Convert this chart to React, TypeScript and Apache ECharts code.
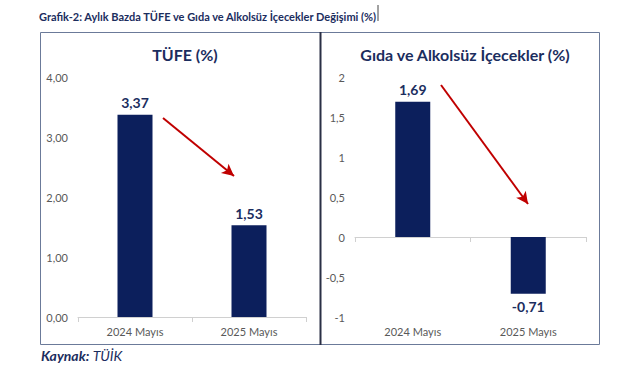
import React, { useEffect, useRef } from "react";
import * as echarts from "echarts";

const categories = ["2024 Mayıs", "2025 Mayıs"];
const tufeValues = [3.37, 1.53];
const gidaValues = [1.69, -0.71];
const mainTitle = "Grafik-2: Aylık Bazda TÜFE ve Gıda ve Alkolsüz İçecekler Değişimi (%)";
const leftTitle = "TÜFE (%)";
const rightTitle = "Gıda ve Alkolsüz İçecekler (%)";

const NAVY = "#0c1f5c";
const TITLE = "#1b2d5e";
const FONT = "Lato, 'Open Sans', sans-serif";

const comma = (v: number, d?: number) =>
  (d === undefined ? String(v) : v.toFixed(d)).replace(".", ",");

export default function App() {
  const ref = useRef<HTMLDivElement>(null);
  useEffect(() => {
    const chart = echarts.init(ref.current!, null, { renderer: "svg" });
    const axisLabelStyle = { color: "#595959", fontSize: 11, fontFamily: FONT };
    chart.setOption({
      animation: false,
      backgroundColor: "#ffffff",
      textStyle: { fontFamily: FONT },
      title: [
        { text: mainTitle, left: 34, top: 6, textStyle: { fontSize: 11, fontWeight: "bold", color: TITLE, fontFamily: FONT } },
        { text: leftTitle, left: 180, top: 41, textAlign: "center", textStyle: { fontSize: 16, fontWeight: "bold", color: TITLE, fontFamily: FONT } },
        { text: rightTitle, left: 460, top: 41, textAlign: "center", textStyle: { fontSize: 16, fontWeight: "bold", color: TITLE, fontFamily: FONT } },
      ],
      grid: [
        { left: 78, right: 335, top: 77, bottom: 63 },
        { left: 355, right: 55, top: 77, bottom: 63 },
      ],
      xAxis: [
        {
          type: "category", gridIndex: 0, data: categories,
          axisLine: { lineStyle: { color: "#d0d0d0" } },
          axisTick: { show: true, lineStyle: { color: "#d0d0d0" } },
          axisLabel: { ...axisLabelStyle, margin: 9 },
        },
        {
          type: "category", gridIndex: 1, data: categories, position: "bottom",
          axisLine: { show: false, onZero: false },
          axisTick: { show: false },
          axisLabel: { ...axisLabelStyle, margin: 9 },
        },
        {
          type: "category", gridIndex: 1, data: categories, position: "bottom",
          axisLine: { show: true, onZero: true, lineStyle: { color: "#d0d0d0" } },
          axisTick: { show: true, lineStyle: { color: "#d0d0d0" } },
          axisLabel: { show: false },
        },
      ],
      yAxis: [
        {
          type: "value", gridIndex: 0, min: 0, max: 4, interval: 1,
          axisLine: { show: false }, axisTick: { show: false }, splitLine: { show: false },
          axisLabel: { ...axisLabelStyle, margin: 10, formatter: (v: number) => comma(v, 2) },
        },
        {
          type: "value", gridIndex: 1, min: -1, max: 2, interval: 0.5,
          axisLine: { show: false }, axisTick: { show: false }, splitLine: { show: false },
          axisLabel: { ...axisLabelStyle, margin: 10, formatter: (v: number) => comma(v) },
        },
      ],
      series: [
        {
          type: "bar", xAxisIndex: 0, yAxisIndex: 0, data: tufeValues, barWidth: 35,
          itemStyle: { color: NAVY },
          label: { show: true, position: "top", distance: 5, formatter: (p: any) => comma(p.value, 2), fontSize: 14, fontWeight: "bold", color: TITLE, fontFamily: FONT },
          markLine: {
            silent: true, symbol: ["none", "arrow"], symbolSize: [9, 12],
            lineStyle: { color: "#c00000", width: 2, type: "solid" },
            label: { show: false },
            data: [[{ x: 163, y: 118 }, { x: 234, y: 176 }]],
          },
        },
        {
          type: "bar", xAxisIndex: 1, yAxisIndex: 1, barWidth: 35,
          data: gidaValues.map((v) => ({
            value: v,
            label: { position: v >= 0 ? "top" : "bottom", distance: v >= 0 ? 5 : 6 },
          })),
          itemStyle: { color: NAVY },
          label: {
            show: true, fontSize: 14, fontWeight: "bold", color: TITLE, fontFamily: FONT,
            formatter: (p: any) => comma(p.value, 2),
          },
          markLine: {
            silent: true, symbol: ["none", "arrow"], symbolSize: [9, 12],
            lineStyle: { color: "#c00000", width: 2, type: "solid" },
            label: { show: false },
            data: [[{ x: 441, y: 85 }, { x: 528, y: 204 }]],
          },
        },
      ],
      graphic: [
        { type: "rect", shape: { x: 40.5, y: 32.5, width: 559, height: 312 }, style: { fill: "none", stroke: "#6b7a99", lineWidth: 1 }, silent: true },
        { type: "line", shape: { x1: 320.5, y1: 32, x2: 320.5, y2: 345 }, style: { stroke: "#2a2f45", lineWidth: 2 }, silent: true },
        { type: "line", shape: { x1: 378, y1: 5, x2: 378, y2: 21 }, style: { stroke: "#444", lineWidth: 1 }, silent: true },
        {
          type: "text", left: 41, top: 348,
          style: {
            text: "{b|Kaynak:} {i|TÜİK}",
            rich: {
              b: { fontSize: 14, fontWeight: "bold", fontStyle: "italic", fill: TITLE, fontFamily: FONT },
              i: { fontSize: 14, fontStyle: "italic", fill: TITLE, fontFamily: FONT },
            },
          },
        },
      ],
    });
    return () => chart.dispose();
  }, []);
  return <div ref={ref} style={{ position: "fixed", left: 0, top: 0, width: 641, height: 380 }} />;
}
